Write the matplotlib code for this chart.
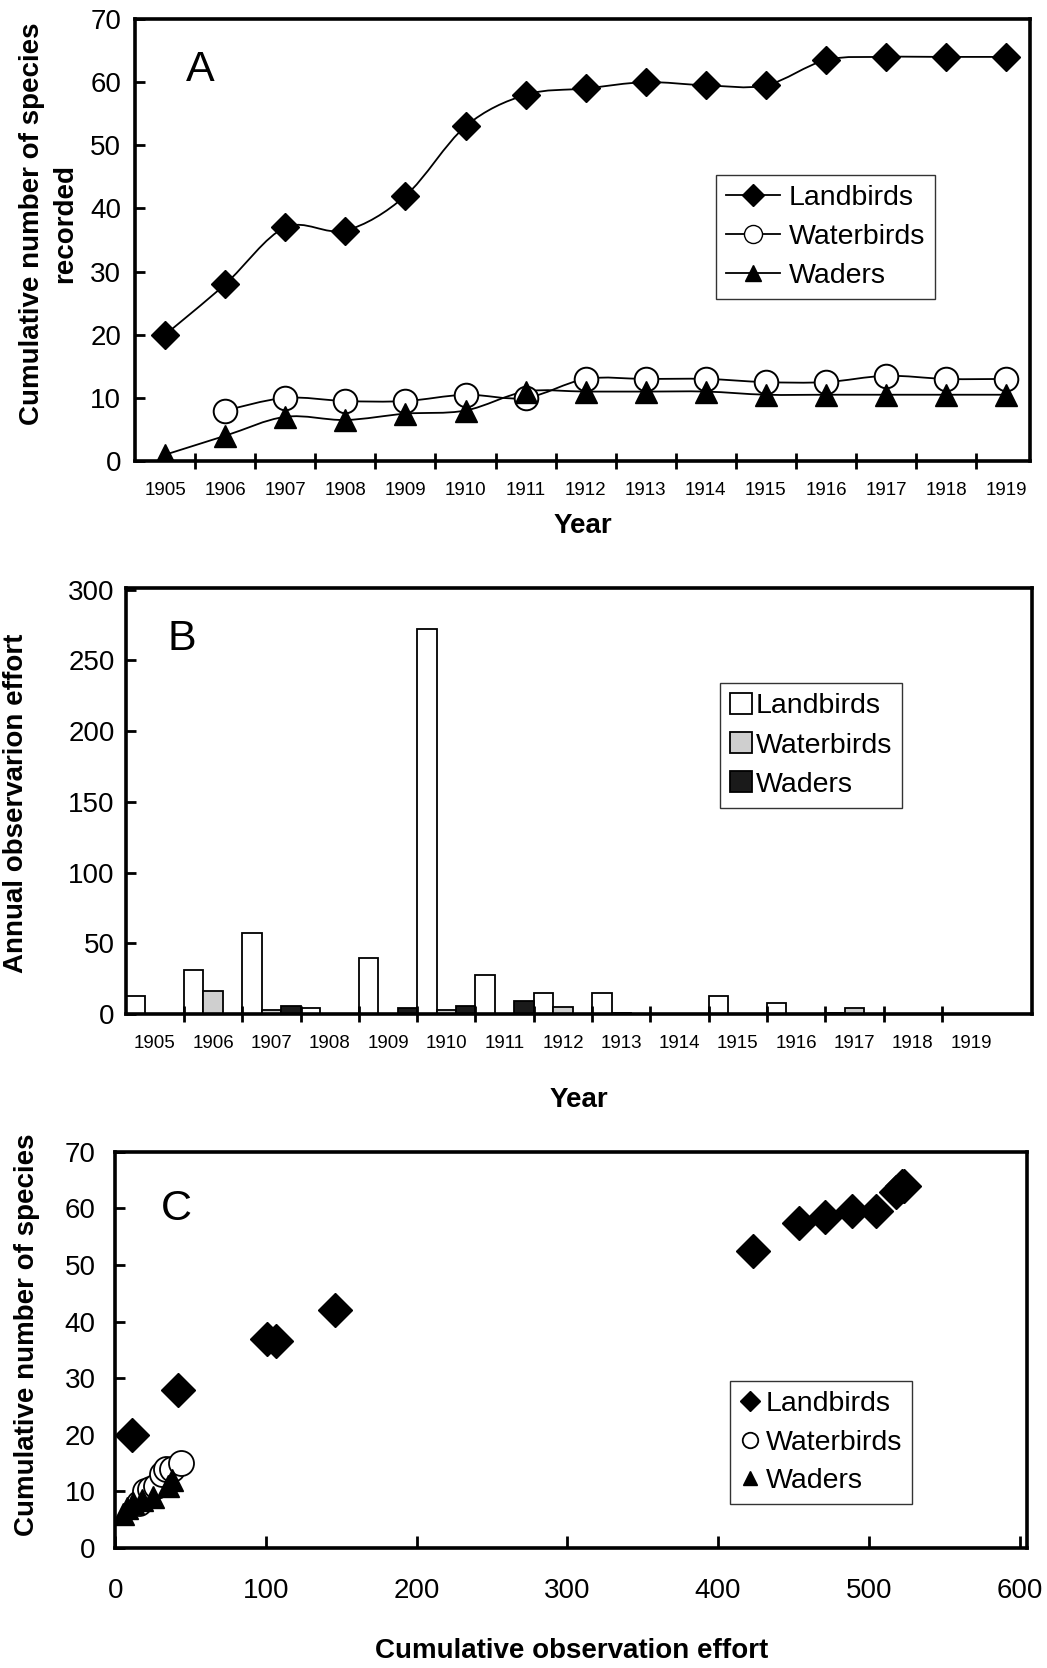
import numpy as np
import matplotlib.pyplot as plt
from matplotlib.path import Path
from matplotlib.patches import PathPatch
from matplotlib.lines import Line2D

plt.rcParams['font.family'] = ['Liberation Sans', 'DejaVu Sans']

years = [1905, 1906, 1907, 1908, 1909, 1910, 1911, 1912, 1913, 1914, 1915, 1916, 1917, 1918, 1919]

# Panel A: cumulative species per year
land_cum = [20, 28, 37, 36.5, 42, 53, 58, 59, 60, 59.5, 59.5, 63.5, 64, 64, 64]
water_years = years[1:]
water_cum = [8, 10, 9.5, 9.5, 10.5, 10, 13, 13, 13, 12.5, 12.5, 13.5, 13, 13]
wader_cum = [1, 4, 7, 6.5, 7.5, 8, 11, 11, 11, 11, 10.5, 10.5, 10.5, 10.5, 10.5]

# Panel B: annual observation effort
land_eff = [13, 31, 57, 4, 40, 272, 28, 15, 15, 0, 13, 8, 1, 0, 0]
water_eff = [0, 16, 3, 0, 0, 3, 0, 5, 1, 0, 0, 0, 4, 0, 0]
wader_eff = [0, 0, 6, 0, 4, 6, 9, 0, 0, 0, 0, 0, 0, 0, 0]

# Panel C: cumulative species vs cumulative effort
land_x = [11, 42, 101, 107, 146, 423, 454, 471, 489, 505, 518, 522, 523]
land_y = [20, 28, 37, 36.5, 42, 52.5, 57.5, 58.5, 59.5, 59.5, 63, 64, 64]
water_x = [16, 20, 23, 27, 31, 34, 38, 44]
water_y = [8, 10, 10.5, 11, 13, 14, 14, 15]
wader_x = [5, 8, 12, 18, 25, 35, 38]
wader_y = [6, 7, 8, 8.5, 9, 11, 12]


def smooth_path(x, y):
    # bezier path through the points (excel style smoothed line)
    p = np.column_stack([x, y]).astype(float)
    verts = [p[0]]
    codes = [Path.MOVETO]
    n = len(p)
    for i in range(n - 1):
        p0 = p[i - 1] if i > 0 else p[i]
        p3 = p[i + 2] if i + 2 < n else p[i + 1]
        c1 = p[i] + (p[i + 1] - p0) / 6.0
        c2 = p[i + 1] - (p3 - p[i]) / 6.0
        verts += [c1, c2, p[i + 1]]
        codes += [Path.CURVE4] * 3
    return Path(verts, codes)


fig = plt.figure(figsize=(10.47, 16.68), dpi=100)

spine_w = 2.6
tick_fs = 20
lab_fs = 20
leg_fs = 20.5

# ---------------- A ----------------
axA = fig.add_axes([0.129, 0.7236, 0.855, 0.265])
for xs, ys in [(years, land_cum), (water_years, water_cum), (years, wader_cum)]:
    axA.add_patch(PathPatch(smooth_path(xs, ys), fill=False, lw=1.3, edgecolor='black', zorder=2))
axA.plot(years, land_cum, ls='none', marker='D', ms=14, mfc='black', mec='black', zorder=3)
axA.plot(water_years, water_cum, ls='none', marker='o', ms=17, mfc='white', mec='black', mew=1.4, zorder=3)
axA.plot(years, wader_cum, ls='none', marker='^', ms=16, mfc='black', mec='black', zorder=4)
axA.set_xlim(1904.5, 1919.4)
axA.set_ylim(0, 70)
axA.set_yticks(range(0, 71, 10))
axA.tick_params(axis='y', direction='in', length=7, width=2, labelsize=tick_fs, pad=10)
axA.set_xticks(years)
axA.set_xticklabels([str(y) for y in years], fontsize=13.5)
axA.tick_params(axis='x', which='major', length=0, pad=15)
axA.set_xticks([y + 0.5 for y in years[:-1]], minor=True)
axA.tick_params(axis='x', which='minor', direction='inout', length=12, width=2)
axA.set_xlabel('Year', fontsize=lab_fs, fontweight='bold', labelpad=10)
axA.set_ylabel('Cumulative number of species\nrecorded', fontsize=lab_fs, fontweight='bold',
               linespacing=1.35)
axA.yaxis.set_label_coords(-0.064, 0.537)
axA.text(0.073, 0.885, 'A', transform=axA.transAxes, fontsize=31, va='center', ha='center')
hA = [Line2D([], [], color='black', lw=1.3, marker='D', ms=11, mfc='black'),
      Line2D([], [], color='black', lw=1.3, marker='o', ms=13, mfc='white'),
      Line2D([], [], color='black', lw=1.3, marker='^', ms=12, mfc='black')]
legA = axA.legend(hA, ['Landbirds', 'Waterbirds', 'Waders'], loc='upper left',
                  bbox_to_anchor=(0.649, 0.646), fontsize=leg_fs, frameon=True, fancybox=False,
                  edgecolor='black', handlelength=1.9, handletextpad=0.3, borderpad=0.35,
                  labelspacing=0.45, borderaxespad=0)
legA.get_frame().set_linewidth(1.0)

# ---------------- B ----------------
axB = fig.add_axes([0.120, 0.392, 0.866, 0.2554])
pos = np.arange(len(years))
w = 1 / 3
axB.bar(pos - w, land_eff, width=w, align='center', color='white', edgecolor='black', lw=1.3, label='Landbirds')
axB.bar(pos, water_eff, width=w, align='center', color='#cfcfcf', edgecolor='black', lw=1.3, label='Waterbirds')
axB.bar(pos + w, wader_eff, width=w, align='center', color='#1a1a1a', edgecolor='black', lw=1.3, label='Waders')
axB.set_xlim(-0.5, 15.05)
axB.set_ylim(0, 301)
axB.set_yticks(range(0, 301, 50))
axB.tick_params(axis='y', direction='in', length=7, width=2, labelsize=tick_fs, pad=8)
axB.set_xticks(pos)
axB.set_xticklabels([str(y) for y in years], fontsize=13.5)
axB.tick_params(axis='x', which='major', length=0, pad=15)
axB.set_xticks(pos[:-1] + 0.5, minor=True)
axB.tick_params(axis='x', which='minor', direction='inout', length=12, width=2)
axB.set_xlabel('Year', fontsize=lab_fs, fontweight='bold', labelpad=25)
axB.set_ylabel('Annual observarion effort', fontsize=lab_fs, fontweight='bold')
axB.yaxis.set_label_coords(-0.107, 0.495)
axB.text(0.062, 0.88, 'B', transform=axB.transAxes, fontsize=31, va='center', ha='center')
legB = axB.legend(loc='upper left', bbox_to_anchor=(0.656, 0.777), fontsize=leg_fs, frameon=True,
                  fancybox=False, edgecolor='black', handlelength=0.75, handleheight=0.75,
                  handletextpad=0.15, borderpad=0.35, labelspacing=0.45, borderaxespad=0)
legB.get_frame().set_linewidth(1.0)

# ---------------- C ----------------
axC = fig.add_axes([0.110, 0.072, 0.871, 0.2374])
axC.plot(land_x, land_y, ls='none', marker='D', ms=17, mfc='black', mec='black', label='Landbirds', zorder=3)
axC.plot(water_x, water_y, ls='none', marker='o', ms=18, mfc='white', mec='black', mew=1.3, label='Waterbirds', zorder=2)
axC.plot(wader_x, wader_y, ls='none', marker='^', ms=16, mfc='black', mec='black', label='Waders', zorder=4)
axC.set_xlim(0, 605)
axC.set_ylim(0, 70)
axC.set_yticks(range(0, 71, 10))
axC.set_xticks(range(0, 601, 100))
axC.tick_params(axis='y', direction='in', length=7, width=2, labelsize=tick_fs, pad=14)
axC.tick_params(axis='x', direction='in', length=9, width=2, pad=22, labelsize=20)
axC.set_xlabel('Cumulative observation effort', fontsize=lab_fs, fontweight='bold', labelpad=24)
axC.set_ylabel('Cumulative number of species', fontsize=lab_fs, fontweight='bold')
axC.yaxis.set_label_coords(-0.082, 0.538)
axC.text(0.067, 0.855, 'C', transform=axC.transAxes, fontsize=31, va='center', ha='center')
legC = axC.legend(loc='upper left', bbox_to_anchor=(0.674, 0.422), fontsize=leg_fs, frameon=True,
                  fancybox=False, edgecolor='black', markerscale=0.62, handlelength=0.7,
                  handletextpad=0.2, borderpad=0.35, labelspacing=0.45, borderaxespad=0)
legC.get_frame().set_linewidth(1.0)

for ax in (axA, axB, axC):
    for s in ax.spines.values():
        s.set_linewidth(spine_w)

fig.savefig('out.png', dpi=100, facecolor='white')
